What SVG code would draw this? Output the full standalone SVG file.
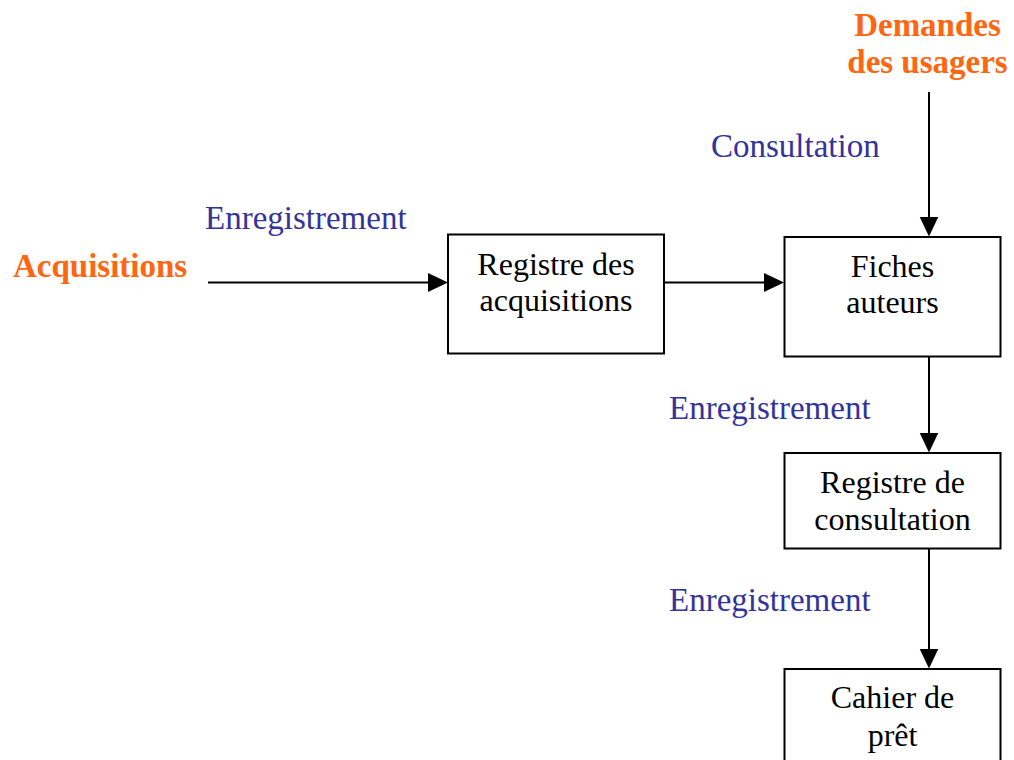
<svg xmlns="http://www.w3.org/2000/svg" width="1014" height="760" viewBox="0 0 1014 760">
  <style>
    .box { fill: #ffffff; stroke: #000000; stroke-width: 2; }
    .edge { stroke: #000000; stroke-width: 2; fill: none; }
  </style>
  <defs>
    <marker id="arrow" viewBox="0 0 20 20" refX="10" refY="10" markerWidth="20" markerHeight="20" markerUnits="userSpaceOnUse" orient="auto">
      <path d="M0,0.5 L20,10 L0,19.5 Z" fill="#000000"/>
    </marker>
  </defs>

  <rect width="1014" height="760" fill="#ffffff"/>

  <!-- external sources -->
  <g id="source-acquisitions">
    <text font-family="Liberation Serif" font-size="33" font-weight="bold" fill="#ff6611" x="13" y="277">Acquisitions</text>
  </g>
  <g id="source-demandes">
    <text font-family="Liberation Serif" font-size="33" font-weight="bold" fill="#ff6611" x="927.5" y="36" text-anchor="middle">Demandes</text>
    <text font-family="Liberation Serif" font-size="33" font-weight="bold" fill="#ff6611" x="927.5" y="73" text-anchor="middle">des usagers</text>
  </g>

  <!-- connectors and their labels -->
  <g id="connectors">
    <line class="edge" x1="208" y1="282.5" x2="438" y2="282.5" marker-end="url(#arrow)"/>
    <line class="edge" x1="665" y1="282.5" x2="774" y2="282.5" marker-end="url(#arrow)"/>
    <line class="edge" x1="929" y1="92" x2="929" y2="226.5" marker-end="url(#arrow)"/>
    <line class="edge" x1="929" y1="357" x2="929" y2="442.5" marker-end="url(#arrow)"/>
    <line class="edge" x1="929" y1="549" x2="929" y2="658.5" marker-end="url(#arrow)"/>
    <text font-family="Liberation Serif" font-size="33" fill="#333399" x="205" y="229">Enregistrement</text>
    <text font-family="Liberation Serif" font-size="33" fill="#333399" x="711" y="157">Consultation</text>
    <text font-family="Liberation Serif" font-size="33" fill="#333399" x="669" y="419">Enregistrement</text>
    <text font-family="Liberation Serif" font-size="33" fill="#333399" x="669" y="611">Enregistrement</text>
  </g>

  <!-- registers -->
  <g id="registre-acquisitions">
    <rect class="box" x="448" y="234.5" width="216" height="119"/>
    <text font-family="Liberation Serif" font-size="32" fill="#000000" x="556" y="275" text-anchor="middle">Registre des</text>
    <text font-family="Liberation Serif" font-size="32" fill="#000000" x="556" y="311" text-anchor="middle">acquisitions</text>
  </g>
  <g id="fiches-auteurs">
    <rect class="box" x="784.5" y="237" width="216" height="119.5"/>
    <text font-family="Liberation Serif" font-size="32" fill="#000000" x="892.5" y="277" text-anchor="middle">Fiches</text>
    <text font-family="Liberation Serif" font-size="32" fill="#000000" x="892.5" y="313" text-anchor="middle">auteurs</text>
  </g>
  <g id="registre-consultation">
    <rect class="box" x="784.5" y="453" width="216" height="95.5"/>
    <text font-family="Liberation Serif" font-size="32" fill="#000000" x="892.5" y="493" text-anchor="middle">Registre de</text>
    <text font-family="Liberation Serif" font-size="32" fill="#000000" x="892.5" y="530" text-anchor="middle">consultation</text>
  </g>
  <g id="cahier-pret">
    <rect class="box" x="784.5" y="669" width="216" height="110"/>
    <text font-family="Liberation Serif" font-size="32" fill="#000000" x="892.5" y="708" text-anchor="middle">Cahier de</text>
    <text font-family="Liberation Serif" font-size="32" fill="#000000" x="892.5" y="746" text-anchor="middle">prêt</text>
  </g>
</svg>
